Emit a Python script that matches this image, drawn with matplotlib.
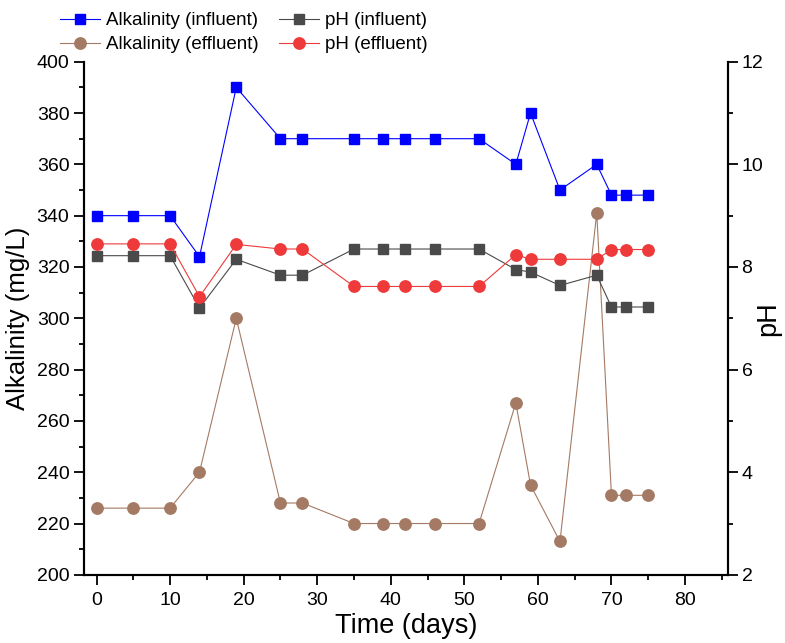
import matplotlib

matplotlib.use("Agg")
import matplotlib.pyplot as plt
from matplotlib.ticker import MultipleLocator

plt.rcParams["font.family"] = ["Liberation Sans", "DejaVu Sans"]

# sampling days
days = [0, 5, 10, 14, 19, 25, 28, 35, 39, 42, 46, 52, 57, 59, 63, 68, 70, 72, 75]

# alkalinity, mg/L
alk_influent = [340, 340, 340, 324, 390, 370, 370, 370, 370, 370, 370, 370,
                360, 380, 350, 360, 348, 348, 348]
alk_effluent = [226, 226, 226, 240, 300, 228, 228, 220, 220, 220, 220, 220,
                267, 235, 213, 341, 231, 231, 231]

# pH
ph_influent = [8.22, 8.22, 8.22, 7.2, 8.15, 7.84, 7.84, 8.35, 8.35, 8.35, 8.35, 8.35,
               7.95, 7.9, 7.64, 7.84, 7.22, 7.22, 7.22]
ph_effluent = [8.45, 8.45, 8.45, 7.42, 8.44, 8.35, 8.35, 7.62, 7.62, 7.62, 7.62, 7.62,
               8.24, 8.15, 8.15, 8.15, 8.34, 8.34, 8.34]

BLUE = "#0000FF"
BROWN = "#A47A64"
GREY = "#4A4A4A"
RED = "#EE3A3A"

fig = plt.figure(figsize=(7.85, 6.43), dpi=100)
ax = fig.add_axes([0.107, 0.106, 0.820, 0.798])
ax2 = ax.twinx()

h1, = ax.plot(days, alk_influent, color=BLUE, lw=0.8, marker="s", ms=7.8,
              label="Alkalinity (influent)")
h2, = ax.plot(days, alk_effluent, color=BROWN, lw=0.8, marker="o", ms=8.2,
              label="Alkalinity (effluent)")
h3, = ax2.plot(days, ph_influent, color=GREY, lw=0.8, marker="s", ms=7.8,
               label="pH (influent)")
h4, = ax2.plot(days, ph_effluent, color=RED, lw=0.8, marker="o", ms=8.2,
               label="pH (effluent)")

ax.set_xlim(-1.7, 85.8)
ax.set_ylim(200, 400)
ax2.set_ylim(2, 12)

ax.xaxis.set_major_locator(MultipleLocator(10))
ax.xaxis.set_minor_locator(MultipleLocator(5))
ax.yaxis.set_major_locator(MultipleLocator(20))
ax.yaxis.set_minor_locator(MultipleLocator(10))
ax2.yaxis.set_major_locator(MultipleLocator(2))
ax2.yaxis.set_minor_locator(MultipleLocator(1))

for a in (ax, ax2):
    a.spines["top"].set_visible(False)
    for s in a.spines.values():
        s.set_linewidth(1.5)
    a.tick_params(which="major", direction="out", length=7, width=1.3, labelsize=14)
    a.tick_params(which="minor", direction="out", length=3.5, width=1.3)
ax.tick_params(axis="x", which="major", pad=5)
ax.tick_params(axis="y", which="major", pad=3.5)
ax2.tick_params(axis="y", which="major", pad=3)

ax.set_xlabel("Time (days)", fontsize=19.5)
ax.set_ylabel("Alkalinity (mg/L)", fontsize=18.5)
ax2.set_ylabel("pH", fontsize=19.5)
ax.xaxis.set_label_coords(0.5, -0.074)
ax.yaxis.set_label_coords(-0.084, 0.5)
ax2.yaxis.set_label_coords(1.042, 0.5)

fig.legend(handles=[h1, h2, h3, h4], ncol=2, loc="upper left",
           bbox_to_anchor=(0.055, 1.007), frameon=False, fontsize=13.5,
           handlelength=2.13, columnspacing=1.07, handletextpad=0.32,
           labelspacing=0.36)

fig.savefig("out.png", dpi=100)
